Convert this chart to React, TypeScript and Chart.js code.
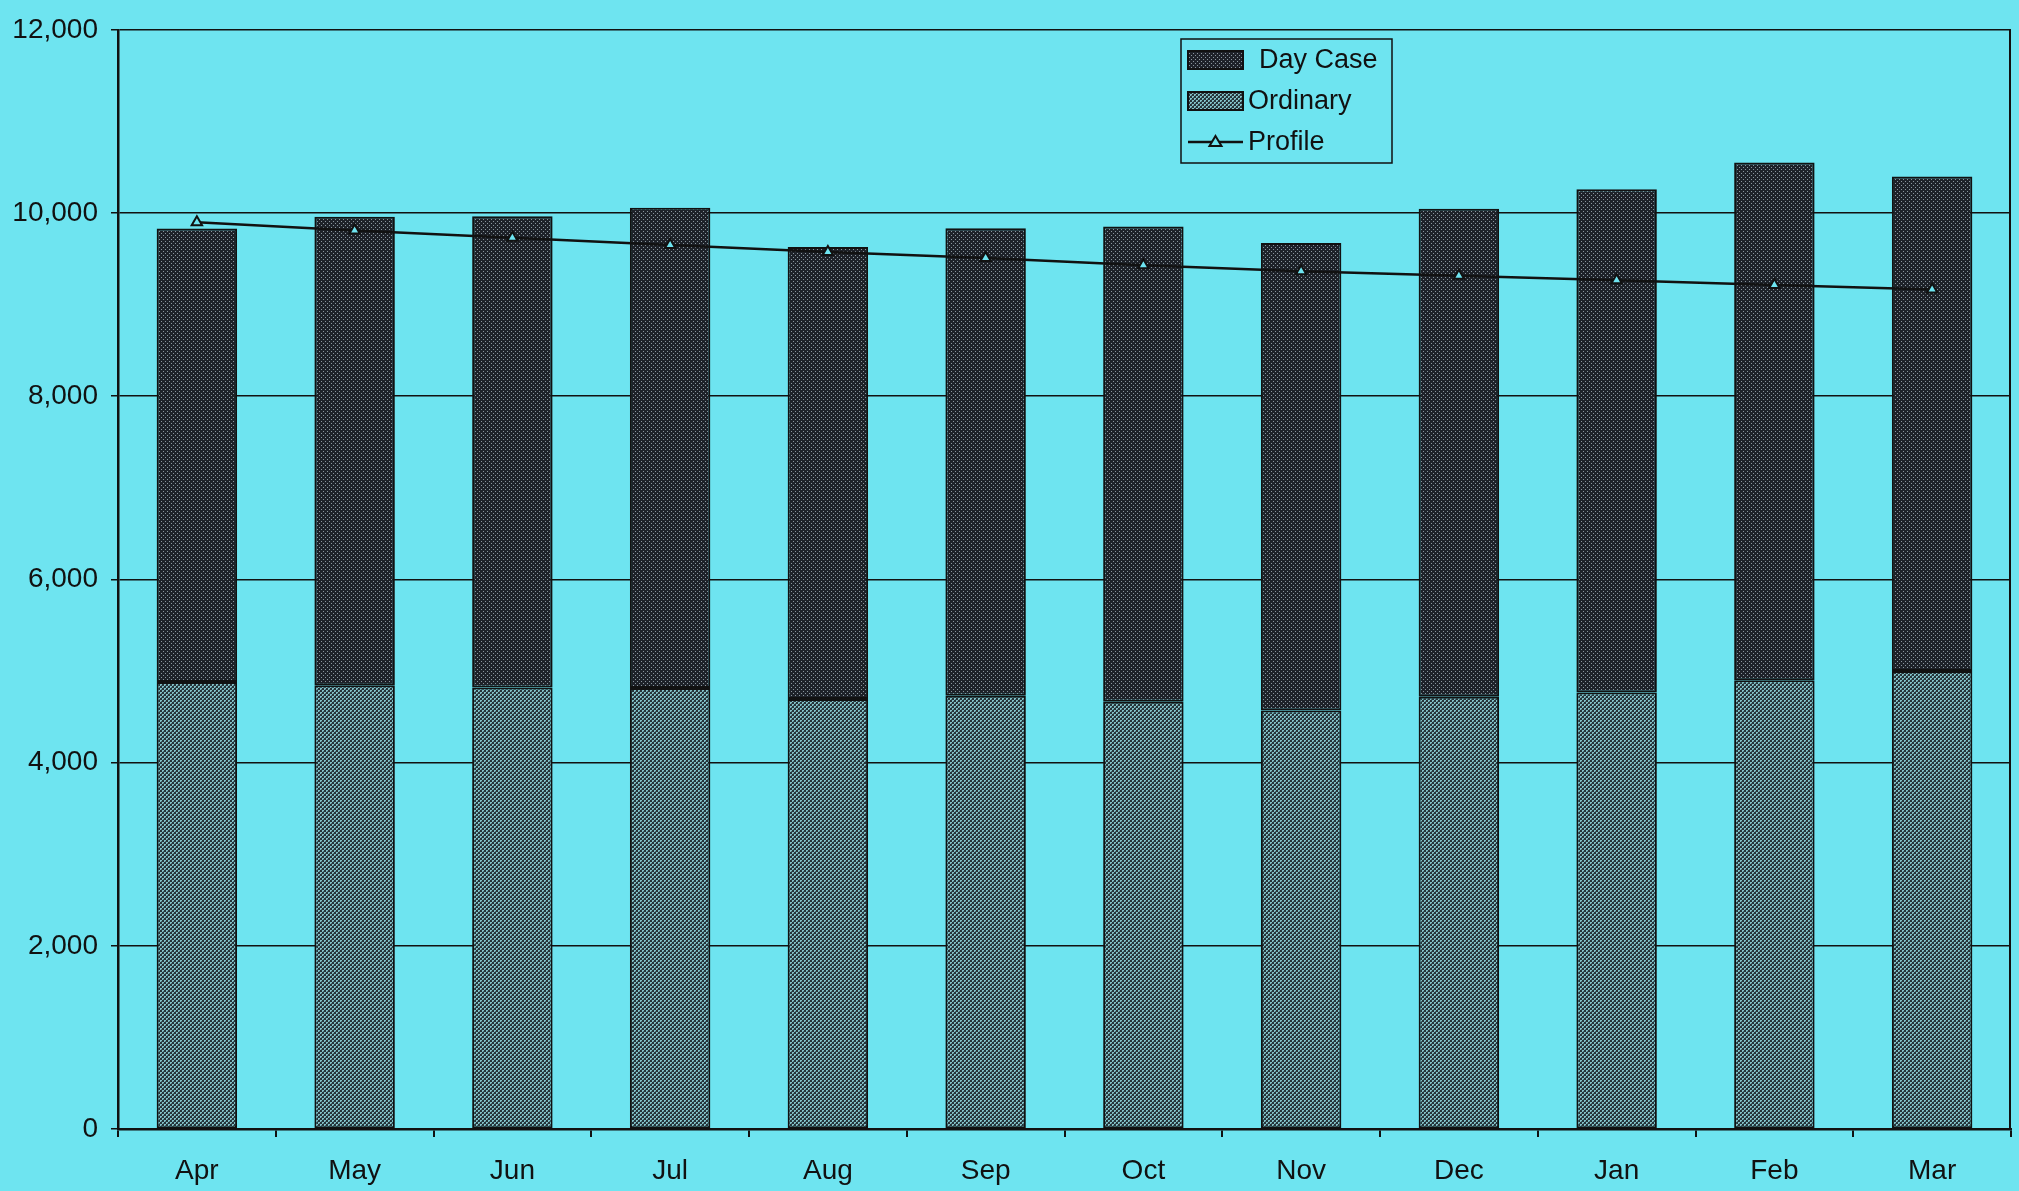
import React, { useEffect, useRef } from "react";
import { Chart, registerables } from "chart.js";

Chart.register(...registerables);

const months = ["Apr", "May", "Jun", "Jul", "Aug", "Sep", "Oct", "Nov", "Dec", "Jan", "Feb", "Mar"];
const ordinary = [4880, 4845, 4820, 4815, 4695, 4730, 4665, 4570, 4720, 4765, 4900, 5000];
const dayCase = [4950, 5115, 5145, 5243, 4935, 5103, 5187, 5103, 5327, 5495, 5650, 5398];
const profile = [9900, 9810, 9730, 9650, 9575, 9510, 9430, 9365, 9315, 9265, 9215, 9165];
const yTicks = [0, 2000, 4000, 6000, 8000, 10000, 12000];

const BG = "#6ee4f0";
const FONT = "'Liberation Sans', Arial, sans-serif";

function makePattern(kind: "day" | "ord"): CanvasPattern | string {
  const c = document.createElement("canvas");
  c.width = 4;
  c.height = 4;
  const g = c.getContext("2d");
  if (!g) return kind === "day" ? "#2a2e36" : "#5a8288";
  if (kind === "day") {
    g.fillStyle = "#1e2229";
    g.fillRect(0, 0, 4, 4);
    g.fillStyle = "#8a969e";
    g.fillRect(1, 1, 1, 1);
    g.fillRect(3, 3, 1, 1);
  } else {
    g.fillStyle = "#26343a";
    g.fillRect(0, 0, 4, 4);
    g.fillStyle = "#82c0c6";
    g.fillRect(0, 0, 2, 2);
    g.fillRect(2, 2, 2, 2);
    g.fillStyle = "#4a6a70";
    g.fillRect(1, 1, 1, 1);
    g.fillRect(3, 3, 1, 1);
  }
  const p = g.createPattern(c, "repeat");
  return p || (kind === "day" ? "#2a2e36" : "#5a8288");
}

const bgPlugin = {
  id: "bgFill",
  beforeDraw(chart: any) {
    const { ctx, width, height } = chart;
    ctx.save();
    ctx.fillStyle = BG;
    ctx.fillRect(0, 0, width, height);
    ctx.restore();
  },
};

const framePlugin = {
  id: "frameRight",
  afterDatasetsDraw(chart: any) {
    const { ctx, chartArea } = chart;
    ctx.save();
    ctx.strokeStyle = "#111";
    ctx.lineWidth = 2;
    ctx.beginPath();
    ctx.moveTo(chartArea.right - 1, chartArea.top);
    ctx.lineTo(chartArea.right - 1, chartArea.bottom);
    ctx.stroke();
    ctx.restore();
  },
};

const legendPlugin = {
  id: "boxLegend",
  afterDraw(chart: any, _args: any, opts: any) {
    const { ctx } = chart;
    const ds = chart.data.datasets;
    const byLabel = (l: string) => ds.find((d: any) => d.label === l);
    ctx.save();
    ctx.fillStyle = BG;
    ctx.fillRect(opts.x, opts.y, opts.w, opts.h);
    ctx.strokeStyle = "#111";
    ctx.lineWidth = 1.5;
    ctx.strokeRect(opts.x, opts.y, opts.w, opts.h);
    ctx.font = `${opts.fontSize}px ${FONT}`;
    ctx.textBaseline = "middle";
    ctx.textAlign = "left";
    const items = opts.order as string[];
    items.forEach((label: string, i: number) => {
      const d = byLabel(label);
      const cy = opts.y + opts.firstRow + i * opts.rowGap;
      const sx = opts.x + 7;
      const sw = 55;
      if (d.type === "line") {
        ctx.strokeStyle = "#111";
        ctx.lineWidth = 2.5;
        ctx.beginPath();
        ctx.moveTo(sx, cy);
        ctx.lineTo(sx + sw, cy);
        ctx.stroke();
        const cx = sx + sw / 2;
        ctx.beginPath();
        ctx.moveTo(cx, cy - 6);
        ctx.lineTo(cx + 6, cy + 4);
        ctx.lineTo(cx - 6, cy + 4);
        ctx.closePath();
        ctx.fillStyle = BG;
        ctx.fill();
        ctx.lineWidth = 2;
        ctx.stroke();
      } else {
        ctx.fillStyle = d.backgroundColor;
        ctx.fillRect(sx, cy - 9, sw, 18);
        ctx.strokeStyle = "#111";
        ctx.lineWidth = 2;
        ctx.strokeRect(sx, cy - 9, sw, 18);
      }
      ctx.fillStyle = "#111";
      const tx = label === "Day Case" ? sx + sw + 16 : sx + sw + 5;
      ctx.fillText(label, tx, cy + 1);
    });
    ctx.restore();
  },
};

export default function App() {
  const ref = useRef<HTMLCanvasElement | null>(null);

  useEffect(() => {
    document.body.style.margin = "0";
    document.body.style.background = BG;
    const canvas = ref.current;
    if (!canvas) return;
    const chart = new Chart(canvas, {
      type: "bar",
      data: {
        labels: months,
        datasets: [
          {
            type: "line",
            label: "Profile",
            data: profile,
            borderColor: "#111",
            borderWidth: 2.5,
            pointStyle: "triangle",
            pointRadius: 6,
            pointBackgroundColor: BG,
            pointBorderColor: "#111",
            pointBorderWidth: 2,
            tension: 0,
            fill: false,
            stack: "profile",
            order: 0,
          } as any,
          {
            type: "bar",
            label: "Ordinary",
            data: ordinary,
            backgroundColor: makePattern("ord") as any,
            borderColor: "#111",
            borderWidth: 2,
            borderSkipped: false,
            stack: "adm",
            order: 1,
          },
          {
            type: "bar",
            label: "Day Case",
            data: dayCase,
            backgroundColor: makePattern("day") as any,
            borderColor: "#111",
            borderWidth: 2,
            borderSkipped: false,
            stack: "adm",
            order: 1,
          },
        ],
      },
      options: {
        animation: false,
        responsive: false,
        maintainAspectRatio: false,
        layout: { padding: { top: 26, right: 3, left: 0, bottom: 0 } },
        datasets: {
          bar: { barPercentage: 0.51, categoryPercentage: 1.0 },
        },
        plugins: {
          legend: { display: false },
          tooltip: { enabled: false },
          boxLegend: {
            x: 1181,
            y: 39,
            w: 211,
            h: 124,
            firstRow: 21,
            rowGap: 41,
            fontSize: 27,
            order: ["Day Case", "Ordinary", "Profile"],
          },
        } as any,
        scales: {
          x: {
            stacked: true,
            grid: {
              display: true,
              offset: true,
              drawOnChartArea: false,
              drawTicks: true,
              tickLength: 8,
              color: "#111",
              lineWidth: 2,
            },
            border: { display: true, color: "#111", width: 2.5 },
            ticks: {
              color: "#111",
              font: { family: FONT, size: 28 },
              padding: 17,
              maxRotation: 0,
            },
            afterFit: (s: any) => {
              s.height = 62;
            },
          },
          y: {
            stacked: true,
            min: 0,
            max: 12000,
            afterBuildTicks: (s: any) => {
              s.ticks = yTicks.map((v) => ({ value: v }));
            },
            grid: {
              color: "#111",
              lineWidth: 1.5,
              drawTicks: true,
              tickLength: 7,
            },
            border: { display: true, color: "#111", width: 2.5 },
            ticks: {
              color: "#111",
              font: { family: FONT, size: 28 },
              padding: 13,
              callback: (v: any) => Number(v).toLocaleString("en-US"),
            },
            afterFit: (s: any) => {
              s.width = 118;
            },
          },
        },
      },
      plugins: [bgPlugin, framePlugin, legendPlugin],
    });
    return () => chart.destroy();
  }, []);

  return (
    <div style={{ width: 2019, height: 1191, background: BG }}>
      <canvas ref={ref} width={2019} height={1191} style={{ display: "block" }} />
    </div>
  );
}
